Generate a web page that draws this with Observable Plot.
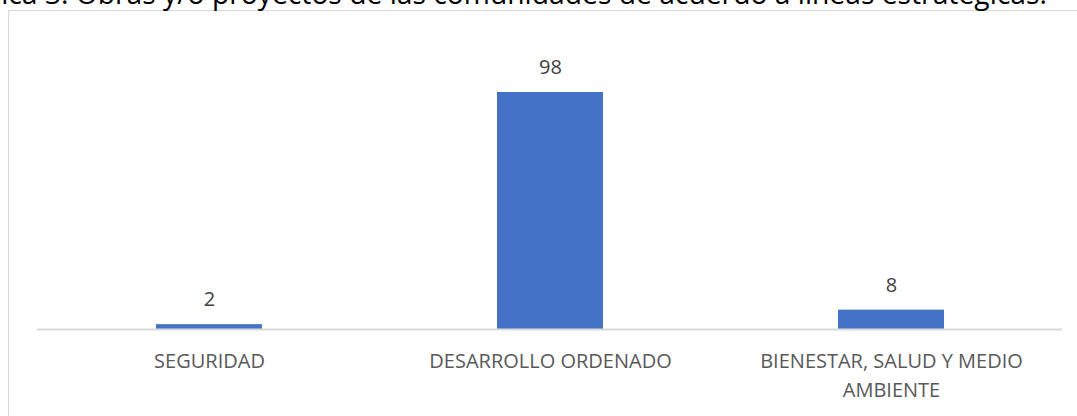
<!DOCTYPE html>
<html>
<head>
<meta charset="utf-8">
<script src="https://cdn.jsdelivr.net/npm/d3@7"></script>
<script src="https://cdn.jsdelivr.net/npm/@observablehq/plot@0.6"></script>
<style>
  html, body { margin: 0; padding: 0; width: 1077px; height: 416px; overflow: hidden; background: #fff; position: relative; }
  #frame { position: absolute; left: 8px; top: 10px; width: 1200px; height: 500px; border: 1px solid #d9d9d9; box-sizing: border-box; }
  #chart { position: absolute; left: 0; top: 0; }
  #titleSvg { position: absolute; left: 0; top: 0; overflow: visible; }
</style>
</head>
<body>
<div id="frame"></div>
<svg id="titleSvg" width="1077" height="40">
  <text id="title" y="4" font-family="'Open Sans', sans-serif" font-size="26" fill="#000">Gráfica 3. Obras y/o proyectos de las comunidades de acuerdo a líneas estratégicas.</text>
</svg>
<div id="chart"></div>
<script>
const categories = ["SEGURIDAD", "DESARROLLO ORDENADO", "BIENESTAR, SALUD Y MEDIO AMBIENTE"];
const tickLabels = ["SEGURIDAD", "DESARROLLO ORDENADO", "BIENESTAR, SALUD Y MEDIO\nAMBIENTE"];
const values = [2, 98, 8];

const data = categories.map((c, i) => ({category: c, value: values[i]}));
const labelOf = new Map(categories.map((c, i) => [c, tickLabels[i]]));

// Title: the reference shows it cropped at the top-left ("ica 3. ..." starts at x = 0, ends near x = 1047)
const title = document.getElementById("title");
const prefixW = title.getSubStringLength(0, 4);      // "Gráf"
const total = title.getComputedTextLength();
const scale = 1047 / (total - prefixW);
title.setAttribute("font-size", 26 * scale);
title.setAttribute("x", -prefixW * scale);

const chart = Plot.plot({
  width: 1077,
  height: 416,
  marginLeft: 37,
  marginRight: 15,
  marginTop: 92,
  marginBottom: 87,
  style: {background: "transparent", fontFamily: "'Open Sans', sans-serif"},
  x: {domain: categories, paddingInner: 0.69, paddingOuter: 0.345, axis: null},
  y: {domain: [0, 98], axis: null},
  marks: [
    Plot.barY(data, {x: "category", y: "value", fill: "#4472c4"}),
    Plot.ruleY([0], {stroke: "#d9d9d9", strokeWidth: 2}),
    Plot.text(data, {x: "category", y: "value", text: d => String(d.value), dy: -25, fontSize: 20, fill: "#404040"}),
    Plot.axisX({
      label: null,
      tickSize: 0,
      tickPadding: 18,
      tickFormat: d => labelOf.get(d),
      fontSize: 20,
      lineHeight: 1.45,
      color: "#595959",
      textAnchor: "middle"
    })
  ]
});
document.getElementById("chart").appendChild(chart);
</script>
</body>
</html>
